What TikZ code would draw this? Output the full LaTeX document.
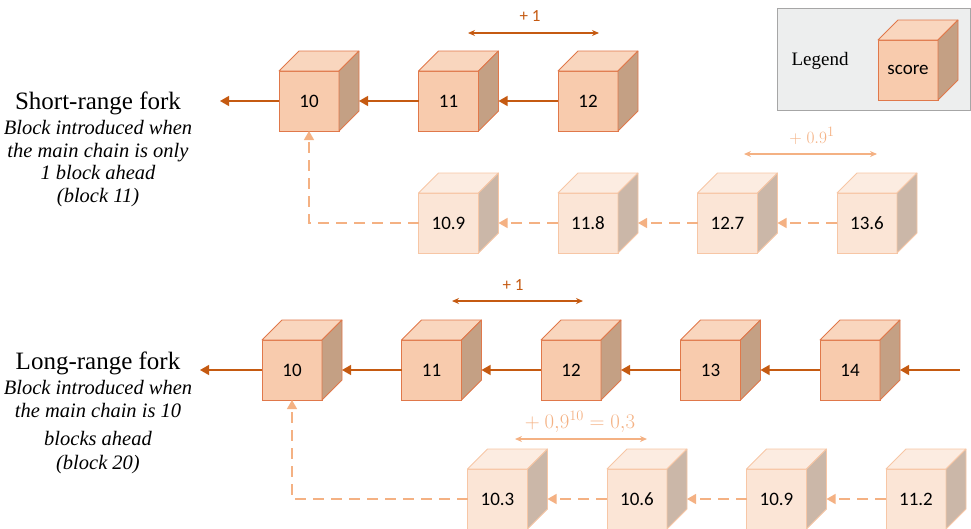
\documentclass[tikz,border=0pt]{standalone}
\usepackage{fontspec}
\setmainfont{Liberation Serif}
\newfontfamily\cubefont{Carlito}
\usetikzlibrary{arrows.meta, positioning}
\usepackage{xcolor}
\definecolor{mainfront}{HTML}{F8CBAD}
\definecolor{maintopc}{HTML}{F9D6BE}
\definecolor{mainsidec}{HTML}{C4A084}
\definecolor{mainedge}{HTML}{E0784A}
\definecolor{forkfront}{HTML}{FBE5D6}
\definecolor{forktopc}{HTML}{FCECE1}
\definecolor{forksidec}{HTML}{CBB7A8}
\definecolor{forkedge}{HTML}{F7C6A5}
\definecolor{arrowmain}{HTML}{C55A11}
\definecolor{arrowfork}{HTML}{F4B183}
\definecolor{legendfill}{HTML}{EDEEEE}
\definecolor{legendedge}{HTML}{A6A6A6}

\begin{document}
\begin{tikzpicture}[x=1pt, y=-1pt,
node distance=79.5pt,
blk/.style={draw=mainedge, fill=mainfront, rectangle,
minimum width=60pt,
minimum height=60pt,
inner sep=0pt, outer sep=0pt, line width=0.8pt,
font=\cubefont\fontsize{19}{21}\selectfont},
forkblk/.style={blk, draw=forkedge, fill=forkfront},
maintop/.style={draw=mainedge, fill=maintopc, line width=0.8pt, line join=round},
mainside/.style={draw=mainedge, fill=mainsidec, line width=0.8pt, line join=round},
forktop/.style={draw=forkedge, fill=forktopc, line width=0.8pt, line join=round},
forkside/.style={draw=forkedge, fill=forksidec, line width=0.8pt, line join=round},
arrow/.style={-{Triangle[length=9pt,width=10pt]}, line width=1.3pt, draw=arrowmain},
forkarrow/.style={arrow, draw=arrowfork, dash pattern=on 11pt off 7pt},
span/.style={{Stealth[length=7pt,width=6pt]}-{Stealth[length=7pt,width=6pt]}, line width=1.4pt},
title/.style={font=\fontsize{25}{27}\selectfont},
note/.style={align=center, font=\itshape\fontsize{20.5}{22.5}\selectfont}
]
\useasboundingbox (0,0) rectangle (971,528);

% legend
\draw[legendedge, fill=legendfill, line width=0.8pt] (777,8) rectangle (970,110);
\node[font=\fontsize{19}{21}\selectfont] (legend) at (820,61) {Legend};
\node[blk] (key) at (908,70) {score};

% short-range fork
\node[title] (stitle) at (98,103) {Short-range fork};
\node[note, anchor=north] (snote) at (98,117) {Block introduced when\\the main chain is only\\1 block ahead\\(block 11)};

\node[blk] (s10) at (309,101) {10};
\node[blk, right=of s10] (s11) {11};
\node[blk, right=of s11] (s12) {12};

\node[forkblk, below=62pt of s11] (t109) {10.9};
\node[forkblk, right=of t109] (t118) {11.8};
\node[forkblk, right=of t118] (t127) {12.7};
\node[forkblk, right=of t127] (t136) {13.6};

% long-range fork
\node[title] (ltitle) at (98,363) {Long-range fork};
\node[note, anchor=north] (lnote) at (98,377) {Block introduced when\\the main chain is 10\\[6pt]blocks ahead\\[1pt](block 20)};

\node[blk] (l10) at (292,370) {10};
\node[blk, right=of l10] (l11) {11};
\node[blk, right=of l11] (l12) {12};
\node[blk, right=of l12] (l13) {13};
\node[blk, right=of l13] (l14) {14};

\node[forkblk] (g103) at (497.5,499) {10.3};
\node[forkblk, right=of g103] (g106) {10.6};
\node[forkblk, right=of g106] (g109) {10.9};
\node[forkblk, right=of g109] (g112) {11.2};

% cube faces
\foreach \n in {key,s10,s11,s12,l10,l11,l12,l13,l14} {
\draw[maintop] (\n.north west) -- ++(20,-20) -- ++(60,0) -- (\n.north east) -- cycle;
\draw[mainside] (\n.north east) -- ++(20,-20) -- ++(0,60) -- (\n.south east) -- cycle;
}
\foreach \n in {t109,t118,t127,t136,g103,g106,g109,g112} {
\draw[forktop] (\n.north west) -- ++(20,-20) -- ++(60,0) -- (\n.north east) -- cycle;
\draw[forkside] (\n.north east) -- ++(20,-20) -- ++(0,60) -- (\n.south east) -- cycle;
}

% chains
\coordinate (sout) at (220,101);
\coordinate (lout) at (200,370);
\coordinate (lin) at (960,370);

\draw[arrow] (s10.west) -- (sout);
\draw[arrow] (s11.west) -- ([xshift=20pt]s10.east);
\draw[arrow] (s12.west) -- ([xshift=20pt]s11.east);

\draw[forkarrow] (t109.west) -| (s10.south);
\draw[forkarrow] (t118.west) -- ([xshift=20pt]t109.east);
\draw[forkarrow] (t127.west) -- ([xshift=20pt]t118.east);
\draw[forkarrow] (t136.west) -- ([xshift=20pt]t127.east);

\draw[arrow] (l10.west) -- (lout);
\draw[arrow] (l11.west) -- ([xshift=20pt]l10.east);
\draw[arrow] (l12.west) -- ([xshift=20pt]l11.east);
\draw[arrow] (l13.west) -- ([xshift=20pt]l12.east);
\draw[arrow] (l14.west) -- ([xshift=20pt]l13.east);
\draw[arrow] (lin) -- ([xshift=20pt]l14.east);

\draw[forkarrow] (g103.west) -| (l10.south);
\draw[forkarrow] (g106.west) -- ([xshift=20pt]g103.east);
\draw[forkarrow] (g109.west) -- ([xshift=20pt]g106.east);
\draw[forkarrow] (g112.west) -- ([xshift=20pt]g109.east);

% score steps
\draw[span, arrowmain] (468,33) -- (599,33);
\node[text=arrowmain, font=\cubefont\fontsize{17}{19}\selectfont] (sstep) at (530,16) {+ 1};
\draw[span, arrowfork] (744,154) -- (877,154);
\node[text=arrowfork, font=\fontsize{19}{21}\selectfont] (tstep) at (812,136) {$+\ 0.9^{1}$};
\draw[span, arrowmain] (452,301) -- (583,301);
\node[text=arrowmain, font=\cubefont\fontsize{17}{19}\selectfont] (lstep) at (513,285) {+ 1};
\draw[span, arrowfork] (515,439) -- (647,439);
\node[text=arrowfork, font=\fontsize{19.5}{21}\selectfont] (gstep) at (580,422) {$+\ 0{,}9^{10} = 0{,}3$};

\end{tikzpicture}
\end{document}
